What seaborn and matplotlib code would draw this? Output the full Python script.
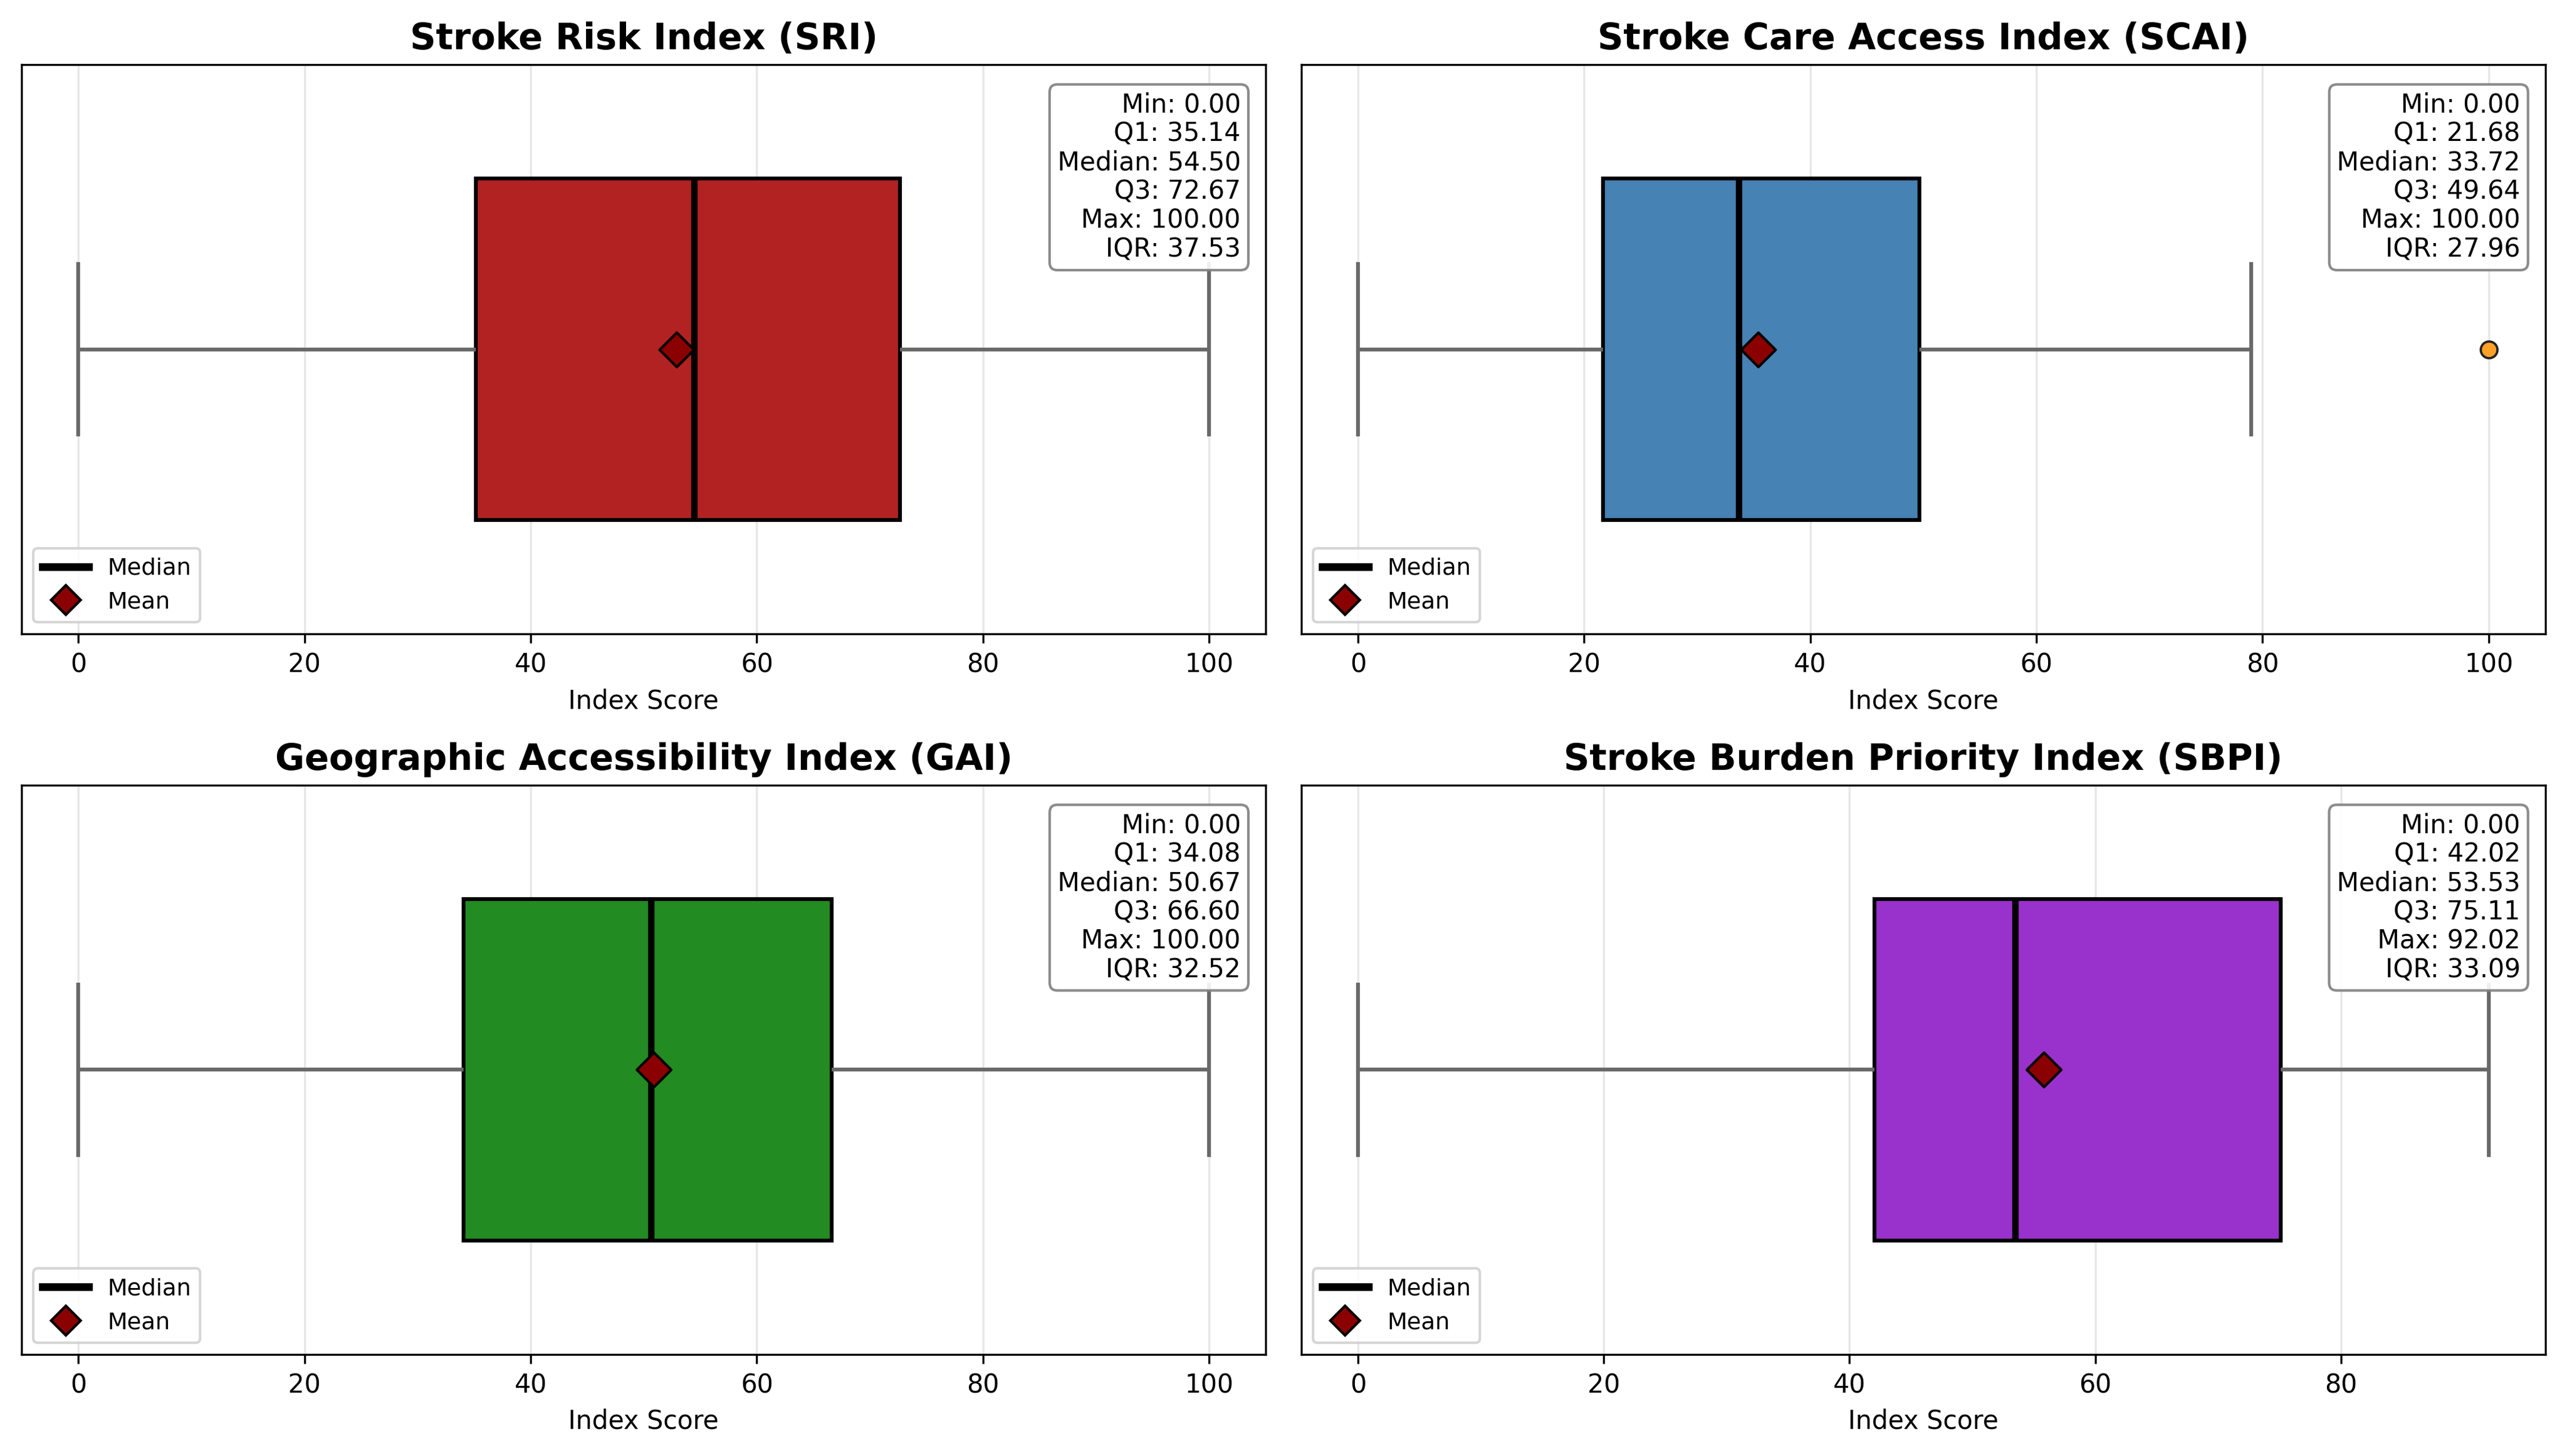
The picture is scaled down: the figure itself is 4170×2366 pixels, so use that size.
import numpy as np
import pandas as pd
import matplotlib
matplotlib.use("Agg")
import matplotlib.pyplot as plt
import seaborn as sns
from matplotlib.lines import Line2D

# sample scores chosen so the quartiles match the summaries shown
sri_scores = [0.00, 35.14, 54.50, 72.67, 100.00]
scai_scores = [0.00, 12.00, 21.68, 28.00, 33.72, 41.00, 49.64, 79.00, 100.00]
gai_scores = [0.00, 34.08, 50.67, 66.60, 100.00]
sbpi_scores = [0.00, 42.02, 53.53, 75.11, 92.02]

titles = ['Stroke Risk Index (SRI)', 'Stroke Care Access Index (SCAI)',
          'Geographic Accessibility Index (GAI)', 'Stroke Burden Priority Index (SBPI)']
colors = ['firebrick', 'steelblue', 'forestgreen', 'darkorchid']

# summary values printed in the boxes
mins = [0.00, 0.00, 0.00, 0.00]
q1s = [35.14, 21.68, 34.08, 42.02]
medians = [54.50, 33.72, 50.67, 53.53]
q3s = [72.67, 49.64, 66.60, 75.11]
maxs = [100.00, 100.00, 100.00, 92.02]
iqrs = [37.53, 27.96, 32.52, 33.09]
means = [52.9, 35.4, 50.9, 55.8]

all_scores = [sri_scores, scai_scores, gai_scores, sbpi_scores]

fig, axes = plt.subplots(2, 2, figsize=(13.9, 7.887), dpi=300)
axes = axes.flatten()

for i, ax in enumerate(axes):
    df = pd.DataFrame({'score': all_scores[i]})
    sns.boxplot(data=df, x='score', ax=ax, color=colors[i], width=0.6,
                saturation=1, linewidth=1.5,
                boxprops=dict(edgecolor='black', linewidth=1.5),
                medianprops=dict(color='black', linewidth=2.5),
                whiskerprops=dict(color='dimgray', linewidth=1.5),
                capprops=dict(color='dimgray', linewidth=1.5),
                flierprops=dict(marker='o', markerfacecolor='#FFA028',
                                markeredgecolor='#222222', markersize=6.5,
                                markeredgewidth=0.9))
    ax.scatter([means[i]], [0], marker='D', s=90, color='darkred',
               edgecolor='black', linewidth=1, zorder=5)
    ax.set_ylim(0.5, -0.5)

    ax.set_title(titles[i], fontsize=14, fontweight='bold')
    ax.set_xlabel('Index Score', fontsize=10)
    ax.set_ylabel('')
    ax.set_yticks([])
    ax.grid(axis='x', alpha=0.3)
    ax.set_axisbelow(True)

    stats = (f'Min: {mins[i]:.2f}\nQ1: {q1s[i]:.2f}\nMedian: {medians[i]:.2f}\n'
             f'Q3: {q3s[i]:.2f}\nMax: {maxs[i]:.2f}\nIQR: {iqrs[i]:.2f}')
    ax.text(0.98, 0.952, stats, transform=ax.transAxes, ha='right', va='top',
            fontsize=10, linespacing=1.15,
            bbox=dict(boxstyle='round', facecolor='white',
                      edgecolor='gray', alpha=0.9))

    handles = [Line2D([0], [0], color='black', linewidth=3, label='Median'),
               Line2D([0], [0], marker='D', color='w', markerfacecolor='darkred',
                      markeredgecolor='black', markersize=8, label='Mean')]
    ax.legend(handles=handles, loc='lower left', fontsize=9)

plt.tight_layout(pad=0.85, w_pad=1.4, h_pad=1.1)
plt.savefig('out.png', dpi=300)
